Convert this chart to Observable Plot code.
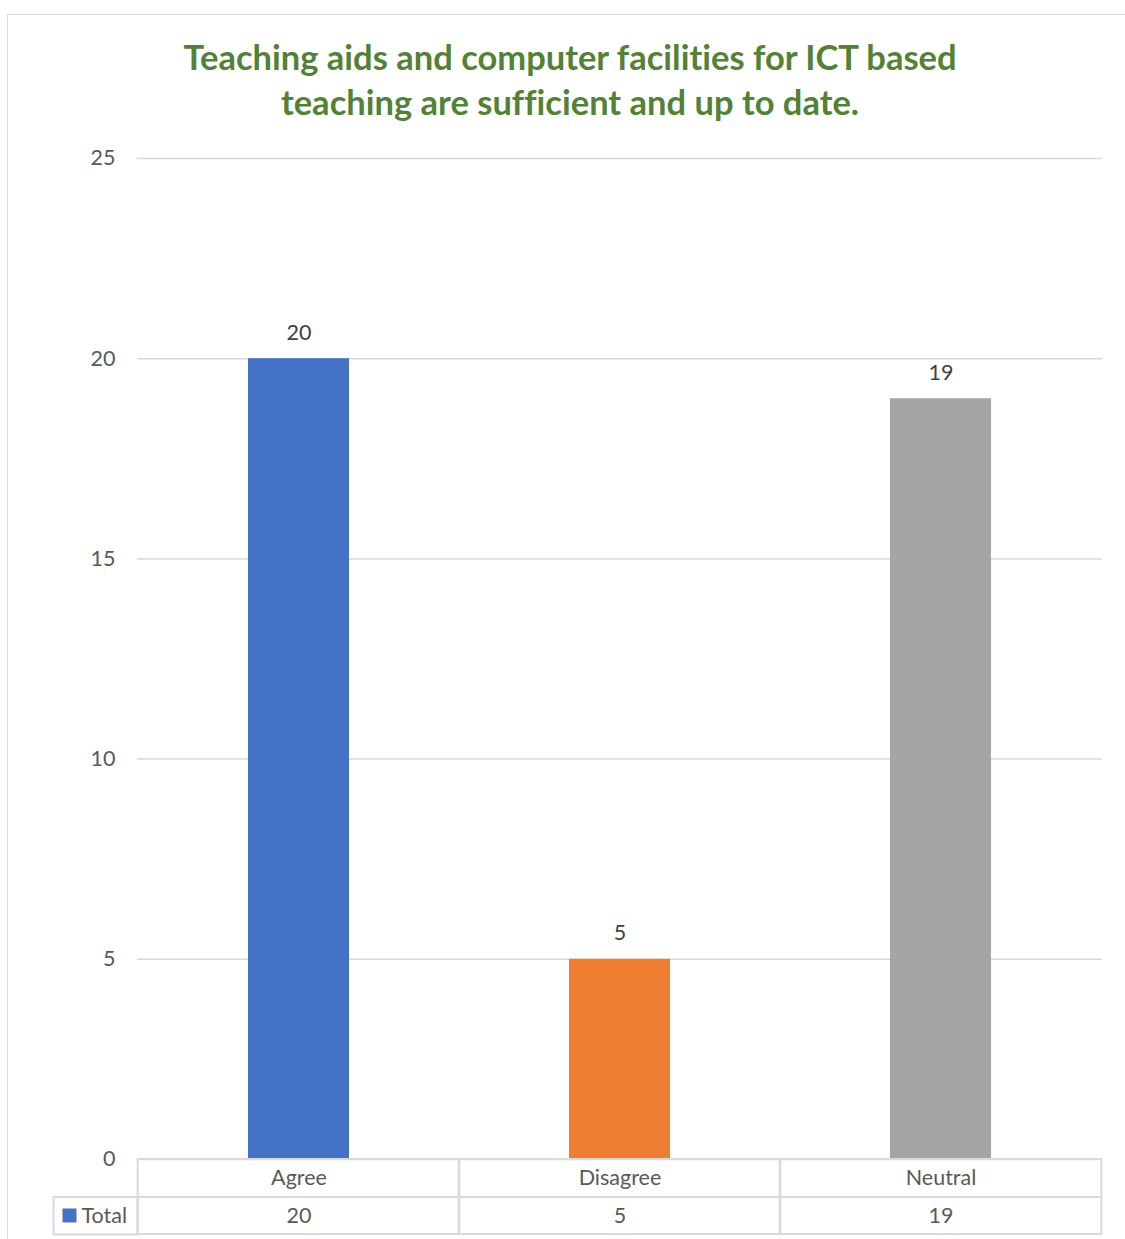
<!DOCTYPE html>
<html><head><meta charset="utf-8">
<script src="https://cdn.jsdelivr.net/npm/d3@7"></script>
<script src="https://cdn.jsdelivr.net/npm/@observablehq/plot@0.6"></script>
<style>
body{margin:0;background:#fff;}
#wrap{position:relative;width:1125px;height:1239px;overflow:hidden;background:#fff;}
#border{position:absolute;left:7px;top:14px;width:1200px;height:1300px;border:1px solid #d9d9d9;box-sizing:border-box;}
#chart{position:absolute;left:0;top:0;}
#chart svg text{font-variant-ligatures:none;}
</style></head><body>
<div id="wrap"><div id="border"></div><div id="chart"></div></div>
<script>
const titleLines = ["Teaching aids and computer facilities for ICT based", "teaching are sufficient and up to date."];
const categories = ["Agree", "Disagree", "Neutral"];
const values = [20, 5, 19];
const colors = ["#4472C4", "#ED7D31", "#A5A5A5"];
const yTicks = [0, 5, 10, 15, 20, 25];
const seriesName = "Total";

const data = categories.map((c, i) => ({category: c, value: values[i], color: colors[i]}));

const W = 1125, H = 1239, mL = 137, mR = 23, mT = 158, mB = 80;
const fw = W - mL - mR, fh = H - mT - mB;
const step = fw / categories.length;
const pInner = 0.686;
const bw = step * (1 - pInner);
const half = (step - bw) / 2;
const rowH = 37.5;
const font = "Lato, 'Open Sans', sans-serif";
const grid = "#d9d9d9";
const txt = "#595959";
const fs = 21.5;

const chart = Plot.plot({
  width: W, height: H,
  marginLeft: mL, marginRight: mR, marginTop: mT, marginBottom: mB,
  style: {fontFamily: font, background: "transparent", overflow: "visible"},
  x: {domain: categories, paddingInner: pInner, paddingOuter: pInner / 2, axis: null},
  y: {domain: [0, 25], axis: null},
  marks: [
    Plot.ruleY(yTicks, {stroke: grid, strokeWidth: 1.5}),
    Plot.axisY(yTicks, {tickSize: 0, tickPadding: 22, fontSize: fs, color: txt, label: null, tickFormat: d => String(d)}),
    Plot.barY(data, {x: "category", y: "value", fill: "color"}),
    Plot.text(data, {x: "category", y: "value", text: d => String(d.value), dy: -26, fontSize: fs, fill: "#404040"}),
    // data table
    Plot.rect(categories, {x: d => d, insetLeft: -half, insetRight: -half, insetTop: fh, insetBottom: -2 * rowH, fill: "none", stroke: grid, strokeWidth: 2}),
    Plot.ruleY([0], {dy: rowH, stroke: grid, strokeWidth: 2}),
    Plot.frame({insetLeft: -84, insetRight: fw, insetTop: fh + rowH, insetBottom: -2 * rowH, stroke: grid, strokeWidth: 2}),
    Plot.text(categories, {x: d => d, frameAnchor: "bottom", lineAnchor: "middle", dy: 19, fontSize: fs, fill: txt}),
    Plot.text(data, {x: "category", text: d => String(d.value), frameAnchor: "bottom", lineAnchor: "middle", dy: 57, fontSize: fs, fill: txt}),
    Plot.text([seriesName], {text: d => d, frameAnchor: "bottom-left", lineAnchor: "middle", dx: -56, dy: 57, textAnchor: "start", fontSize: fs, fill: txt}),
    Plot.dot([seriesName], {frameAnchor: "bottom-left", dx: -68, dy: 56, symbol: "square", r: 7.9, fill: colors[0], stroke: "none"}),
    // title
    Plot.text([titleLines[0]], {text: d => d, frameAnchor: "top", lineAnchor: "middle", dx: -50, dy: -100, fontSize: 34.5, fontWeight: "bold", fill: "#538135"}),
    Plot.text([titleLines[1]], {text: d => d, frameAnchor: "top", lineAnchor: "middle", dx: -50, dy: -55, fontSize: 34.5, fontWeight: "bold", fill: "#538135"})
  ]
});
document.getElementById("chart").appendChild(chart);
</script>
</body></html>
